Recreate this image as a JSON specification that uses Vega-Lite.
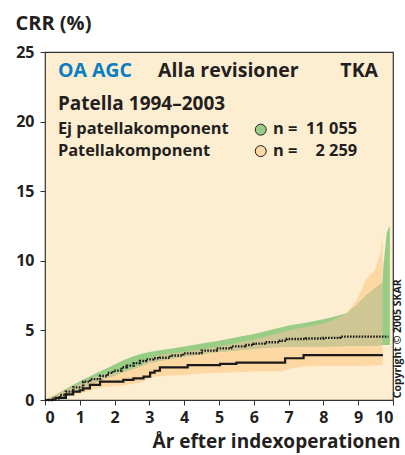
{
  "$schema": "https://vega.github.io/schema/vega-lite/v6.json",
  "width": 348,
  "height": 348,
  "autosize": {"type": "none"},
  "padding": {"left": 45, "top": 52, "right": 12, "bottom": 55},
  "background": "white",
  "config": {
    "font": "Open Sans",
    "view": {"fill": "#fdeed2", "stroke": "#333333", "strokeWidth": 1.2},
    "axis": {
      "grid": false, "domain": false, "tickColor": "#333333", "tickSize": 5, "tickWidth": 1,
      "labelFont": "Open Sans", "labelFontWeight": "bold", "labelFontSize": 16, "labelColor": "#231f20",
      "titleFont": "Open Sans", "titleFontWeight": "bold", "titleColor": "#231f20"
    }
  },
  "datasets": {
    "orange": [
      {"x": 0, "lo": 0, "hi": 0}, {"x": 0.25, "lo": 0.05, "hi": 0.3}, {"x": 0.5, "lo": 0.2, "hi": 0.6},
      {"x": 0.75, "lo": 0.35, "hi": 0.9}, {"x": 1.0, "lo": 0.45, "hi": 1.15}, {"x": 1.25, "lo": 0.65, "hi": 1.45},
      {"x": 1.5, "lo": 0.85, "hi": 1.7}, {"x": 1.75, "lo": 0.95, "hi": 1.85}, {"x": 2.0, "lo": 1.0, "hi": 1.95},
      {"x": 2.25, "lo": 1.05, "hi": 2.1}, {"x": 2.5, "lo": 1.15, "hi": 2.3}, {"x": 2.75, "lo": 1.25, "hi": 2.5},
      {"x": 3.0, "lo": 1.6, "hi": 2.95}, {"x": 3.25, "lo": 1.7, "hi": 3.2}, {"x": 3.5, "lo": 1.75, "hi": 3.3},
      {"x": 4.0, "lo": 1.8, "hi": 3.45}, {"x": 4.5, "lo": 1.9, "hi": 3.65}, {"x": 5.0, "lo": 1.95, "hi": 3.85},
      {"x": 5.5, "lo": 2.0, "hi": 4.1}, {"x": 6.0, "lo": 2.04, "hi": 4.35}, {"x": 6.5, "lo": 2.04, "hi": 4.65},
      {"x": 6.8, "lo": 2.04, "hi": 4.85}, {"x": 7.0, "lo": 2.25, "hi": 5.0}, {"x": 7.5, "lo": 2.42, "hi": 5.25},
      {"x": 8.0, "lo": 2.45, "hi": 5.5}, {"x": 8.3, "lo": 2.45, "hi": 5.75}, {"x": 8.5, "lo": 2.45, "hi": 6.01},
      {"x": 8.67, "lo": 2.45, "hi": 6.23}, {"x": 8.96, "lo": 2.45, "hi": 7.18}, {"x": 9.24, "lo": 2.46, "hi": 8.74},
      {"x": 9.48, "lo": 2.48, "hi": 9.34}, {"x": 9.63, "lo": 2.49, "hi": 10.5}, {"x": 9.7, "lo": 2.5, "hi": 11.6}
    ],
    "green": [
      {"x": 0, "lo": 0, "hi": 0}, {"x": 0.25, "lo": 0.05, "hi": 0.3}, {"x": 0.5, "lo": 0.15, "hi": 0.65},
      {"x": 0.75, "lo": 0.4, "hi": 1.0}, {"x": 1.0, "lo": 0.7, "hi": 1.35}, {"x": 1.25, "lo": 1.0, "hi": 1.65},
      {"x": 1.5, "lo": 1.3, "hi": 1.95}, {"x": 1.75, "lo": 1.55, "hi": 2.25}, {"x": 2.0, "lo": 1.75, "hi": 2.55},
      {"x": 2.25, "lo": 2.0, "hi": 2.85}, {"x": 2.5, "lo": 2.2, "hi": 3.1}, {"x": 2.75, "lo": 2.4, "hi": 3.3},
      {"x": 3.0, "lo": 2.65, "hi": 3.45}, {"x": 3.25, "lo": 2.78, "hi": 3.55}, {"x": 3.5, "lo": 2.9, "hi": 3.65},
      {"x": 4.0, "lo": 3.1, "hi": 3.85}, {"x": 4.5, "lo": 3.3, "hi": 4.05}, {"x": 5.0, "lo": 3.45, "hi": 4.25},
      {"x": 5.5, "lo": 3.55, "hi": 4.5}, {"x": 6.0, "lo": 3.68, "hi": 4.75}, {"x": 6.5, "lo": 3.78, "hi": 5.05},
      {"x": 7.0, "lo": 3.83, "hi": 5.35}, {"x": 7.5, "lo": 3.84, "hi": 5.55}, {"x": 8.0, "lo": 3.85, "hi": 5.8},
      {"x": 8.3, "lo": 3.86, "hi": 5.98}, {"x": 8.5, "lo": 3.87, "hi": 6.12}, {"x": 8.67, "lo": 3.88, "hi": 6.23},
      {"x": 8.96, "lo": 3.9, "hi": 6.82}, {"x": 9.24, "lo": 3.9, "hi": 7.54}, {"x": 9.48, "lo": 3.92, "hi": 8.02},
      {"x": 9.63, "lo": 3.94, "hi": 8.3}, {"x": 9.7, "lo": 3.95, "hi": 8.45}, {"x": 9.72, "lo": 3.95, "hi": 9.5},
      {"x": 9.77, "lo": 3.95, "hi": 10.8}, {"x": 9.82, "lo": 3.95, "hi": 12.0}, {"x": 9.87, "lo": 3.95, "hi": 12.33},
      {"x": 9.91, "lo": 3.95, "hi": 12.45}
    ],
    "overlap": [
      {"x": 0, "lo": 0, "hi": 0}, {"x": 0.25, "lo": 0.05, "hi": 0.3}, {"x": 0.5, "lo": 0.2, "hi": 0.6},
      {"x": 0.75, "lo": 0.4, "hi": 0.9}, {"x": 1.0, "lo": 0.7, "hi": 1.15}, {"x": 1.25, "lo": 1.0, "hi": 1.45},
      {"x": 1.5, "lo": 1.3, "hi": 1.7}, {"x": 1.75, "lo": 1.55, "hi": 1.85}, {"x": 2.0, "lo": 1.75, "hi": 1.95},
      {"x": 2.25, "lo": 2.0, "hi": 2.1}, {"x": 2.5, "lo": 2.2, "hi": 2.3}, {"x": 2.75, "lo": 2.4, "hi": 2.5},
      {"x": 3.0, "lo": 2.65, "hi": 2.95}, {"x": 3.25, "lo": 2.78, "hi": 3.2}, {"x": 3.5, "lo": 2.9, "hi": 3.3},
      {"x": 4.0, "lo": 3.1, "hi": 3.45}, {"x": 4.5, "lo": 3.3, "hi": 3.65}, {"x": 5.0, "lo": 3.45, "hi": 3.85},
      {"x": 5.5, "lo": 3.55, "hi": 4.1}, {"x": 6.0, "lo": 3.68, "hi": 4.35}, {"x": 6.5, "lo": 3.78, "hi": 4.65},
      {"x": 6.8, "lo": 3.81, "hi": 4.85}, {"x": 7.0, "lo": 3.83, "hi": 5.0}, {"x": 7.5, "lo": 3.84, "hi": 5.25},
      {"x": 8.0, "lo": 3.85, "hi": 5.5}, {"x": 8.3, "lo": 3.86, "hi": 5.75}, {"x": 8.5, "lo": 3.87, "hi": 6.01},
      {"x": 8.67, "lo": 3.88, "hi": 6.23}, {"x": 8.96, "lo": 3.9, "hi": 6.82}, {"x": 9.24, "lo": 3.9, "hi": 7.54},
      {"x": 9.48, "lo": 3.92, "hi": 8.02}, {"x": 9.63, "lo": 3.94, "hi": 8.3}, {"x": 9.7, "lo": 3.95, "hi": 8.45}
    ],
    "ej": [
      {"x": 0, "y": 0}, {"x": 0.2, "y": 0.1}, {"x": 0.43, "y": 0.36}, {"x": 0.6, "y": 0.6}, {"x": 0.81, "y": 0.91},
      {"x": 1.1, "y": 1.32}, {"x": 1.3, "y": 1.5}, {"x": 1.58, "y": 1.72}, {"x": 1.8, "y": 1.95}, {"x": 1.96, "y": 2.11},
      {"x": 2.2, "y": 2.35}, {"x": 2.35, "y": 2.47}, {"x": 2.55, "y": 2.65}, {"x": 2.73, "y": 2.8}, {"x": 2.9, "y": 2.92},
      {"x": 3.11, "y": 3.0}, {"x": 3.3, "y": 3.04}, {"x": 3.6, "y": 3.2}, {"x": 3.97, "y": 3.35}, {"x": 4.5, "y": 3.55},
      {"x": 4.93, "y": 3.71}, {"x": 5.35, "y": 3.85}, {"x": 5.75, "y": 3.95}, {"x": 6.0, "y": 4.05}, {"x": 6.32, "y": 4.15},
      {"x": 6.75, "y": 4.26}, {"x": 6.95, "y": 4.38}, {"x": 7.5, "y": 4.42}, {"x": 8.0, "y": 4.46}, {"x": 8.48, "y": 4.55},
      {"x": 9.87, "y": 4.55}
    ],
    "pat": [
      {"x": 0, "y": 0}, {"x": 0.3, "y": 0.15}, {"x": 0.6, "y": 0.4}, {"x": 0.81, "y": 0.6}, {"x": 1.0, "y": 0.7},
      {"x": 1.1, "y": 0.84}, {"x": 1.29, "y": 1.08}, {"x": 1.58, "y": 1.32}, {"x": 2.25, "y": 1.44}, {"x": 2.54, "y": 1.56},
      {"x": 2.83, "y": 1.68}, {"x": 3.02, "y": 1.97}, {"x": 3.15, "y": 2.1}, {"x": 3.3, "y": 2.35}, {"x": 4.1, "y": 2.5},
      {"x": 5.03, "y": 2.6}, {"x": 5.5, "y": 2.69}, {"x": 6.9, "y": 3.0}, {"x": 7.43, "y": 3.23}, {"x": 9.71, "y": 3.23}
    ]
  },
  "encoding": {
    "x": {"field": "x", "type": "quantitative", "scale": {"domain": [0, 10], "nice": false},
      "axis": {"values": [0,1,2,3,4,5,6,7,8,9,10], "labelPadding": 4, "title": "År efter indexoperationen",
        "titleFontSize": 19, "titleAlign": "right", "titleAnchor": null, "titleX": 355, "titleY": 47, "titleBaseline": "alphabetic"}}
  },
  "layer": [
    {"data": {"name": "orange"}, "mark": {"type": "area", "color": "#fdd8a2", "opacity": 1},
      "encoding": {"y": {"field": "lo", "type": "quantitative", "scale": {"domain": [0, 25], "nice": false},
        "axis": {"values": [0,5,10,15,20,25], "labelPadding": 6, "title": "CRR (%)", "titleFontSize": 20, "titleAngle": 0,
          "titleAlign": "left", "titleX": -30, "titleY": -23, "titleBaseline": "alphabetic", "titleAnchor": null}},
        "y2": {"field": "hi"}}},
    {"data": {"name": "green"}, "mark": {"type": "area", "color": "#99cd86", "opacity": 1},
      "encoding": {"y": {"field": "lo", "type": "quantitative"}, "y2": {"field": "hi"}}},
    {"data": {"name": "overlap"}, "mark": {"type": "area", "color": "#cec794", "opacity": 1},
      "encoding": {"y": {"field": "lo", "type": "quantitative"}, "y2": {"field": "hi"}}},
    {"data": {"name": "pat"}, "mark": {"type": "line", "interpolate": "step-after", "color": "#1a1a1a", "strokeWidth": 2.2},
      "encoding": {"y": {"field": "y", "type": "quantitative"}}},
    {"data": {"name": "ej"}, "mark": {"type": "line", "interpolate": "step-after", "color": "#1a1a1a", "strokeWidth": 2.4, "strokeDash": [1.6, 1.3]},
      "encoding": {"y": {"field": "y", "type": "quantitative"}}},
    {"data": {"values": [{"x": 0.37, "y": 23.63, "t": "OA AGC"}]},
      "mark": {"type": "text", "align": "left", "baseline": "middle", "fontSize": 19.5, "fontWeight": "bold", "color": "#0a7dc2"},
      "encoding": {"y": {"field": "y", "type": "quantitative"}, "text": {"field": "t"}}},
    {"data": {"values": [{"x": 3.25, "y": 23.63, "t": "Alla revisioner"}]},
      "mark": {"type": "text", "align": "left", "baseline": "middle", "fontSize": 19.5, "fontWeight": "bold", "color": "#231f20"},
      "encoding": {"y": {"field": "y", "type": "quantitative"}, "text": {"field": "t"}}},
    {"data": {"values": [{"x": 0.37, "y": 21.28, "t": "Patella 1994–2003"}]},
      "mark": {"type": "text", "align": "left", "baseline": "middle", "fontSize": 19, "fontWeight": "bold", "color": "#231f20"},
      "encoding": {"y": {"field": "y", "type": "quantitative"}, "text": {"field": "t"}}},
    {"data": {"values": [{"x": 9.57, "y": 23.63, "t": "TKA"}]},
      "mark": {"type": "text", "align": "right", "baseline": "middle", "fontSize": 19.5, "fontWeight": "bold", "color": "#231f20"},
      "encoding": {"y": {"field": "y", "type": "quantitative"}, "text": {"field": "t"}}},
    {"data": {"values": [{"x": 0.37, "y": 19.45, "t": "Ej patellakomponent"}, {"x": 0.37, "y": 17.92, "t": "Patellakomponent"},
        {"x": 6.55, "y": 19.45, "t": "n ="}, {"x": 6.55, "y": 17.92, "t": "n ="}]},
      "mark": {"type": "text", "align": "left", "baseline": "middle", "fontSize": 16.4, "fontWeight": "bold", "color": "#231f20"},
      "encoding": {"y": {"field": "y", "type": "quantitative"}, "text": {"field": "t"}}},
    {"data": {"values": [{"x": 8.97, "y": 19.45, "t": "11 055"}, {"x": 8.97, "y": 17.92, "t": "2 259"}]},
      "mark": {"type": "text", "align": "right", "baseline": "middle", "fontSize": 16.4, "fontWeight": "bold", "color": "#231f20"},
      "encoding": {"y": {"field": "y", "type": "quantitative"}, "text": {"field": "t"}}},
    {"data": {"values": [{"x": 6.2, "y": 19.42}]},
      "mark": {"type": "point", "shape": "circle", "filled": true, "size": 120, "color": "#99cd86", "stroke": "#231f20", "strokeWidth": 1, "opacity": 1},
      "encoding": {"y": {"field": "y", "type": "quantitative"}}},
    {"data": {"values": [{"x": 6.2, "y": 17.88}]},
      "mark": {"type": "point", "shape": "circle", "filled": true, "size": 120, "color": "#fdd8a2", "stroke": "#231f20", "strokeWidth": 1, "opacity": 1},
      "encoding": {"y": {"field": "y", "type": "quantitative"}}},
    {"data": {"values": [{"x": 10.14, "y": 4.4, "t": "Copyright © 2005 SKAR"}]},
      "mark": {"type": "text", "align": "center", "baseline": "middle", "angle": 270, "fontSize": 10.5, "fontWeight": "bold", "color": "#231f20", "clip": false},
      "encoding": {"y": {"field": "y", "type": "quantitative"}, "text": {"field": "t"}}}
  ]
}
